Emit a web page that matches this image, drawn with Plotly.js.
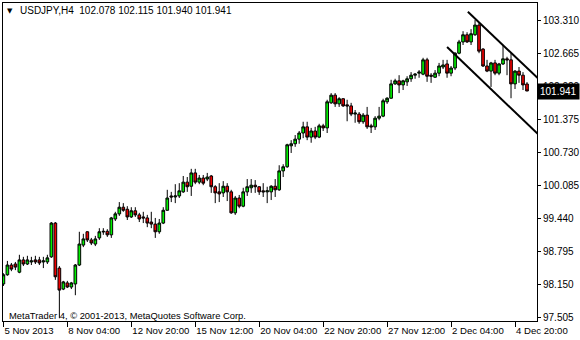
<!DOCTYPE html>
<html>
<head>
<meta charset="utf-8">
<script src="https://cdn.plot.ly/plotly-3.0.1.min.js"></script>
<style>
html,body{margin:0;padding:0;background:#fff;}
#chart{width:580px;height:340px;}
</style>
</head>
<body>
<div id="chart"></div>
<script>
// USDJPY H4 candles (bar index order)
var openP = [98.17,98.35,98.54,98.56,98.40,98.64,98.56,98.60,98.64,98.64,98.60,98.60,98.70,99.36,98.48,98.07,98.19,98.11,98.17,98.54,
98.93,99.19,99.03,98.95,99.07,99.20,99.20,99.13,99.44,99.54,99.67,99.63,99.48,99.60,99.52,99.48,99.46,99.38,99.34,99.19,
99.36,99.61,99.89,99.87,99.89,99.97,100.16,100.08,100.34,100.16,100.24,100.22,100.28,100.07,99.97,99.95,100.08,99.97,99.56,99.85,
99.69,99.97,100.05,100.10,100.07,99.99,99.97,99.97,100.08,100.01,100.38,100.46,100.87,100.91,101.00,101.12,101.24,101.04,101.16,101.04,
101.26,101.22,101.71,101.86,101.69,101.79,101.67,101.65,101.49,101.49,101.34,101.47,101.26,101.24,101.41,101.45,101.73,101.80,102.08,102.14,
102.06,102.12,102.18,102.25,102.29,102.27,102.55,102.25,102.21,102.29,102.41,102.47,102.29,102.39,102.68,102.90,103.04,102.90,103.04,103.23,
102.76,102.43,102.33,102.49,102.29,102.47,102.57,102.55,102.08,102.33,102.25,102.078];
var highP = [98.38,98.62,98.58,98.60,98.74,98.70,98.72,98.70,98.72,98.70,98.70,98.74,99.38,99.38,98.52,98.23,98.23,98.21,98.56,99.19,
99.15,99.20,99.07,99.11,99.26,99.26,99.24,99.48,99.58,99.77,99.75,99.69,99.67,99.67,99.56,99.58,99.52,99.58,99.46,99.44,
99.67,100.01,99.97,100.12,100.14,100.28,100.26,100.42,100.42,100.30,100.30,100.34,100.30,100.10,100.14,100.18,100.14,100.01,99.89,99.91,
100.05,100.22,100.22,100.20,100.08,100.14,100.07,100.10,100.22,100.49,100.51,100.91,100.98,101.08,101.16,101.34,101.34,101.22,101.24,101.30,
101.30,101.77,101.90,101.90,101.82,101.80,101.77,101.71,101.57,101.53,101.51,101.63,101.30,101.45,101.63,101.79,101.82,102.16,102.18,102.25,
102.16,102.23,102.31,102.29,102.35,102.59,102.59,102.29,102.35,102.49,102.55,102.55,102.43,102.70,102.94,103.11,103.09,103.15,103.33,103.27,
102.78,102.55,102.51,102.55,102.49,102.84,102.61,102.68,102.35,102.41,102.31,102.115];
var lowP = [98.13,98.33,98.42,98.44,98.38,98.52,98.54,98.54,98.56,98.54,98.48,98.56,98.68,98.25,97.50,98.05,98.09,98.07,97.95,98.52,
98.89,98.99,98.93,98.91,99.03,99.13,99.09,99.07,99.40,99.50,99.58,99.42,99.46,99.48,99.38,99.36,99.28,99.26,99.07,99.15,
99.34,99.60,99.77,99.75,99.85,99.95,99.97,99.89,100.12,100.12,100.10,100.18,99.95,99.75,99.77,99.87,99.79,99.54,99.52,99.65,
99.67,99.89,99.95,99.95,99.91,99.87,99.75,99.81,99.87,99.99,100.26,100.44,100.73,100.85,100.91,101.02,100.98,100.93,101.00,101.02,
101.16,101.12,101.69,101.63,101.63,101.63,101.35,101.45,101.32,101.30,101.30,101.20,101.12,101.18,101.37,101.43,101.69,101.79,102.06,101.90,
101.96,102.04,102.12,102.18,102.20,102.25,102.12,102.10,102.20,102.23,102.37,102.20,102.23,102.35,102.66,102.84,102.88,102.84,103.02,102.68,
102.41,102.31,102.02,102.25,102.25,102.45,102.25,101.80,101.98,102.10,101.96,101.940];
var closeP = [98.35,98.54,98.46,98.50,98.64,98.56,98.64,98.62,98.60,98.58,98.62,98.68,99.36,98.31,98.05,98.21,98.11,98.19,98.54,98.95,
99.05,99.03,98.97,99.05,99.19,99.19,99.13,99.46,99.54,99.67,99.61,99.48,99.60,99.52,99.44,99.46,99.36,99.34,99.19,99.36,
99.61,99.85,99.87,99.89,99.99,100.16,100.07,100.34,100.16,100.24,100.14,100.26,100.07,99.95,99.93,100.08,99.97,99.56,99.85,99.69,
99.97,100.07,100.10,100.07,99.97,99.97,99.99,100.08,100.01,100.38,100.46,100.89,100.91,101.00,101.12,101.24,101.04,101.16,101.04,101.26,
101.22,101.73,101.86,101.69,101.79,101.65,101.65,101.49,101.51,101.34,101.47,101.24,101.24,101.41,101.45,101.75,101.80,102.08,102.14,102.06,
102.14,102.18,102.25,102.27,102.31,102.55,102.23,102.23,102.29,102.43,102.45,102.29,102.39,102.68,102.90,103.04,102.90,103.06,103.23,102.72,
102.43,102.33,102.49,102.29,102.47,102.57,102.55,102.08,102.33,102.25,102.06,101.941];

// x-axis labels (bar index of each label)
var tickBars = [0,16,32,48,64,80,96,112,128];
var tickLabels = ['5 Nov 2013','8 Nov 04:00','12 Nov 20:00','15 Nov 12:00','20 Nov 04:00','22 Nov 20:00','27 Nov 12:00','2 Dec 04:00','4 Dec 20:00'];
// y-axis price levels
var priceTicks = [97.505,98.150,98.795,99.440,100.085,100.730,101.375,102.020,102.665,103.310];
var priceLabels = ['97.505','98.150','98.795','99.440','100.085','100.730','101.375','102.020','102.665','103.310'];

// descending channel lines (bar index, price)
var upperLineX = [116.2, 134];
var upperLineY = [103.49, 102.17];
var lowerLineX = [111, 134];
var lowerLineY = [102.80, 101.08];

var lastPrice = 101.941;
var headerText = 'USDJPY,H4  102.078 102.115 101.940 101.941';
var footerText = 'MetaTrader 4, \u00a9 2001-2013, MetaQuotes Software Corp.';

var barIdx = openP.map(function(_, i){ return i; });
var FONT = 'Tahoma, "Liberation Sans", "DejaVu Sans", sans-serif';

var traces = [
  {
    type: 'candlestick',
    x: barIdx, open: openP, high: highP, low: lowP, close: closeP,
    increasing: {line: {color: '#000000', width: 1}, fillcolor: '#00f000'},
    decreasing: {line: {color: '#000000', width: 1}, fillcolor: '#f00000'},
    whiskerwidth: 0,
    hoverinfo: 'skip',
    showlegend: false
  },
  {
    type: 'scatter', mode: 'lines', x: upperLineX, y: upperLineY,
    line: {color: '#000000', width: 2}, hoverinfo: 'skip', showlegend: false
  },
  {
    type: 'scatter', mode: 'lines', x: lowerLineX, y: lowerLineY,
    line: {color: '#000000', width: 2}, hoverinfo: 'skip', showlegend: false
  }
];

var layout = {
  width: 580, height: 340,
  margin: {l: 3, r: 43, t: 3, b: 19, pad: 0},
  paper_bgcolor: '#ffffff', plot_bgcolor: '#ffffff',
  font: {family: FONT, size: 10, color: '#000000'},
  showlegend: false,
  boxgap: 0.05,
  xaxis: {
    type: 'linear', range: [-0.1, 133.5],
    showgrid: false, zeroline: false,
    showline: true, mirror: true, linecolor: '#000000', linewidth: 1,
    tickmode: 'array', tickvals: tickBars, ticktext: tickLabels,
    ticks: 'outside', ticklen: 5, tickcolor: '#000000', tickwidth: 1,
    tickangle: 0,
    ticklabelposition: 'outside right',
    tickfont: {family: FONT, size: 9.6, color: '#000000'},
    rangeslider: {visible: false},
    fixedrange: true
  },
  yaxis: {
    side: 'right', range: [97.446, 103.661],
    showgrid: false, zeroline: false,
    showline: true, mirror: true, linecolor: '#000000', linewidth: 1,
    tickmode: 'array', tickvals: priceTicks, ticktext: priceLabels,
    ticks: 'outside', ticklen: 3, tickcolor: '#000000', tickwidth: 1,
    tickfont: {family: FONT, size: 10, color: '#000000'},
    fixedrange: true
  },
  annotations: [
    {xref: 'paper', yref: 'paper', x: 0.0035, y: 0.975, xanchor: 'left', yanchor: 'middle',
     text: '\u25BC', showarrow: false, font: {family: '"DejaVu Sans", sans-serif', size: 7, color: '#000000'}},
    {xref: 'paper', yref: 'paper', x: 0.028, y: 0.975, xanchor: 'left', yanchor: 'middle',
     text: headerText, showarrow: false, font: {family: FONT, size: 10, color: '#000000'}},
    {xref: 'paper', yref: 'paper', x: 0.0075, y: 0.016, xanchor: 'left', yanchor: 'middle',
     text: footerText, showarrow: false, font: {family: FONT, size: 9.4, color: '#000000'}},
    {xref: 'paper', yref: 'y', x: 1, y: lastPrice, xanchor: 'left', yanchor: 'middle',
     text: '101.941', showarrow: false, bgcolor: '#000000', borderpad: 2,
     font: {family: FONT, size: 10, color: '#ffffff'}}
  ]
};

Plotly.newPlot('chart', traces, layout, {displayModeBar: false, staticPlot: true});
</script>
</body>
</html>
